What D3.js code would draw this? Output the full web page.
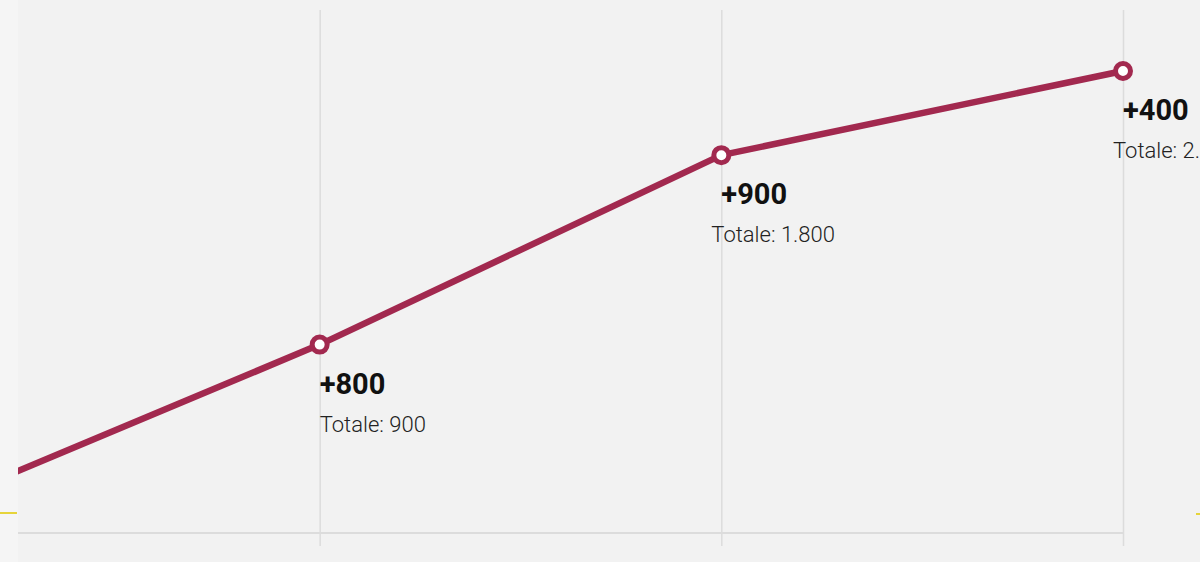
<!DOCTYPE html>
<html>
<head>
<meta charset="utf-8">
<script src="https://cdn.jsdelivr.net/npm/d3@7"></script>
<style>
  html, body { margin: 0; padding: 0; background: #f5f5f5; }
  svg { display: block; }
</style>
</head>
<body>
<script>
// values (first point is off to the left)
const periods = ['p0', 'p1', 'p2', 'p3'];
const totals = [100, 900, 1800, 2200];
const deltas = ['+100', '+800', '+900', '+400'];
const totalLabels = ['Totale: 100', 'Totale: 900', 'Totale: 1.800', 'Totale: 2.200'];

function main() {
    const width = 1200;
    const height = 562;

    const svg = d3.select('body')
        .append('svg')
        .attr('width', width)
        .attr('height', height);

    // plot panel
    svg.append('rect')
        .attr('x', 18)
        .attr('y', 0)
        .attr('width', width - 18)
        .attr('height', height)
        .attr('fill', '#f2f2f2');

    // yellow marker line, only visible at the edges
    svg.append('line')
        .attr('x1', 0).attr('x2', 17)
        .attr('y1', 513).attr('y2', 513)
        .attr('stroke', '#e6d43a')
        .attr('stroke-width', 2);
    svg.append('line')
        .attr('x1', 1196).attr('x2', 1200)
        .attr('y1', 514).attr('y2', 514)
        .attr('stroke', '#e6d43a')
        .attr('stroke-width', 2);

    const xScale = d3.scalePoint()
        .domain(periods)
        .range([-82, 1123]);

    const yScale = d3.scaleLinear()
        .domain([0, 2200])
        .range([534, 71]);

    const clip = svg.append('clipPath').attr('id', 'plot');
    clip.append('rect')
        .attr('x', 18).attr('y', 0)
        .attr('width', width - 18).attr('height', height);

    const g = svg.append('g').attr('clip-path', 'url(#plot)');

    // vertical grid, with the little ticks below the baseline
    const xAxis = d3.axisBottom(xScale)
        .tickSize(-(546 - 10))
        .tickFormat('');
    const ax = g.append('g')
        .attr('transform', `translate(0,${546})`)
        .call(xAxis);
    ax.select('.domain').remove();
    ax.selectAll('line')
        .attr('stroke', '#dcdcdc')
        .attr('stroke-width', 1.5);

    // baseline
    g.append('line')
        .attr('x1', 18).attr('x2', xScale('p3'))
        .attr('y1', yScale(0) - 1).attr('y2', yScale(0) - 1)
        .attr('stroke', '#dcdcdc')
        .attr('stroke-width', 2);

    const line = d3.line()
        .x((d, i) => xScale(periods[i]))
        .y(d => yScale(d));

    g.append('path')
        .datum(totals)
        .attr('d', line)
        .attr('fill', 'none')
        .attr('stroke', '#a2294f')
        .attr('stroke-width', 6.5)
        .attr('stroke-linejoin', 'round');

    g.selectAll('circle')
        .data(totals)
        .enter()
        .append('circle')
        .attr('cx', (d, i) => xScale(periods[i]))
        .attr('cy', d => yScale(d))
        .attr('r', 7.5)
        .attr('fill', '#ffffff')
        .attr('stroke', '#a2294f')
        .attr('stroke-width', 5);

    // labels for the points that are inside the panel
    const shown = totals.map((d, i) => i).filter(i => xScale(periods[i]) >= 18);

    g.selectAll('text.delta')
        .data(shown)
        .enter()
        .append('text')
        .attr('class', 'delta')
        .attr('x', i => xScale(periods[i]))
        .attr('y', i => yScale(totals[i]) + 49)
        .attr('font-family', 'Roboto, sans-serif')
        .attr('font-weight', 'bold')
        .attr('font-size', '29px')
        .attr('fill', '#111')
        .text(i => deltas[i]);

    g.selectAll('text.total')
        .data(shown)
        .enter()
        .append('text')
        .attr('class', 'total')
        .attr('x', i => xScale(periods[i]) - (i > 1 ? 10 : 0))
        .attr('y', i => yScale(totals[i]) + 87)
        .attr('font-family', 'Roboto, sans-serif')
        .attr('font-weight', 300)
        .attr('font-size', '22px')
        .attr('fill', '#222')
        .text(i => totalLabels[i]);
}

main()
</script>
</body>
</html>
